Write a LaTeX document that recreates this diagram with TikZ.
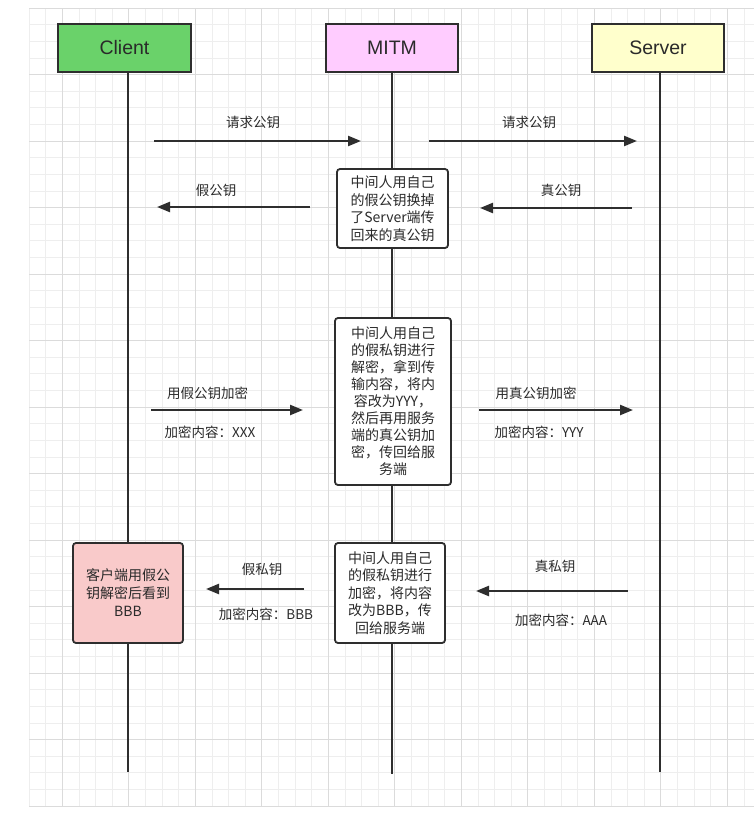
\documentclass[tikz,border=0pt]{standalone}
\usepackage{fontspec}
\setmainfont{Noto Sans CJK SC}
\newfontfamily\fejfont{Liberation Sans}
\usetikzlibrary{arrows.meta,positioning}
\definecolor{vonal}{HTML}{2E2E2E}
\definecolor{szoveg}{HTML}{2A2A2A}
\definecolor{zold}{RGB}{106,210,106}
\definecolor{lila}{HTML}{FFCCFF}
\definecolor{sarga}{HTML}{FFFFCC}
\definecolor{rozsa}{HTML}{F9CACA}
\tikzset{
  szereplo/.style={draw=vonal,line width=1.8pt,minimum width=132pt,minimum height=48pt,
                   font=\fejfont\fontsize{19.5}{22}\selectfont,text=szoveg},
  jegyzet/.style={draw=vonal,line width=1.8pt,rounded corners=3pt,fill=white,align=center,
                  inner sep=2pt,font=\fontsize{14}{17.5}\selectfont,text=szoveg},
  eletvonal/.style={line width=2.6pt,draw=vonal},
  uzenet/.style={line width=2.3pt,draw=vonal,-{Triangle[length=13pt,width=10pt]}},
  felirat/.style={font=\fontsize{13.5}{16}\selectfont,text=szoveg,inner sep=1pt},
  racs/.style={draw=gray!13,line width=0.7pt},
  racsfo/.style={draw=gray!28,line width=0.7pt},
}
\begin{document}
\begin{tikzpicture}[x=1pt,y=-1pt]
  \useasboundingbox[fill=white] (0,0) rectangle (754,819);
  % racs a hatterben
  \foreach \i in {0,...,43} \draw[racs] ({29+16.625*\i},8) -- ({29+16.625*\i},806);
  \foreach \j in {0,...,48} \draw[racs] (29,{8+16.625*\j}) -- (754,{8+16.625*\j});
  \foreach \i in {2,6,...,42} \draw[racsfo] ({29+16.625*\i},8) -- ({29+16.625*\i},806);
  \foreach \j in {0,4,...,48} \draw[racsfo] (29,{8+16.625*\j}) -- (754,{8+16.625*\j});

  % szereplok
  \node[szereplo,fill=zold,minimum width=133pt] (client) at (124.5,48) {Client};
  \node[szereplo,fill=lila] (mitm) at (392,48) {MITM};
  \node[szereplo,fill=sarga] (server) at (658,48) {Server};

  % eletvonalak
  \coordinate (cveg) at (128,772);
  \coordinate (mveg) at (392,774);
  \coordinate (sveg) at (660,772);
  \draw[eletvonal] (cveg |- client.south) -- (cveg);
  \draw[eletvonal] (mitm.south) -- (mveg);
  \draw[eletvonal] (sveg |- server.south) -- (sveg);

  % jegyzetek
  \node[jegyzet,minimum width=111pt,minimum height=79pt] (j1) at (392.5,208.5)
    {中间人用自己\\的假公钥换掉\\了Server端传\\回来的真公钥};
  \node[jegyzet,minimum width=116pt,minimum height=167pt,font=\fontsize{14}{17}\selectfont] (j2) at (393,401.5)
    {中间人用自己\\的假私钥进行\\解密，拿到传\\输内容，将内\\容改为YYY，\\然后再用服务\\端的真公钥加\\密，传回给服\\务端};
  \node[jegyzet,minimum width=110pt,minimum height=100pt] (j3) at (390,593)
    {中间人用自己\\的假私钥进行\\加密，将内容\\改为BBB，传\\回给服务端};
  \node[jegyzet,fill=rozsa,minimum width=110pt,minimum height=100pt,font=\fontsize{14}{18}\selectfont] (kliens) at (128,593)
    {客户端用假公\\钥解密后看到\\BBB};

  % uzenetek
  \coordinate (u1a) at (154,141);  \coordinate (u1b) at (361,141);
  \coordinate (u2a) at (429,141);  \coordinate (u2b) at (637,141);
  \coordinate (u3a) at (310,207);  \coordinate (u3b) at (157,207);
  \coordinate (u4a) at (632,208);  \coordinate (u4b) at (480,208);
  \coordinate (u5a) at (151,410);  \coordinate (u5b) at (303,410);
  \coordinate (u6a) at (479,410);  \coordinate (u6b) at (633,410);
  \coordinate (u7a) at (304,589);  \coordinate (u7b) at (206,589);
  \coordinate (u8a) at (628,591);  \coordinate (u8b) at (476,591);
  \draw[uzenet] (u1a) -- (u1b);
  \draw[uzenet] (u2a) -- (u2b);
  \draw[uzenet] (u3a) -- (u3b);
  \draw[uzenet] (u4a) -- (u4b);
  \draw[uzenet] (u5a) -- (u5b);
  \draw[uzenet] (u6a) -- (u6b);
  \draw[uzenet] (u7a) -- (u7b);
  \draw[uzenet] (u8a) -- (u8b);

  % feliratok
  \node[felirat] (f1) at (253,122) {请求公钥};
  \node[felirat] (f2) at (529,122) {请求公钥};
  \node[felirat] (f3) at (216,190) {假公钥};
  \node[felirat] (f4) at (561,190) {真公钥};
  \node[felirat] (f5) at (207.5,393) {用假公钥加密};
  \node[felirat] (f6) at (210,432) {加密内容：XXX};
  \node[felirat] (f7) at (536,393) {用真公钥加密};
  \node[felirat] (f8) at (539,432) {加密内容：YYY};
  \node[felirat] (f9) at (262,569) {假私钥};
  \node[felirat] (f10) at (266,614) {加密内容：BBB};
  \node[felirat] (f11) at (555,566) {真私钥};
  \node[felirat] (f12) at (561,620) {加密内容：AAA};
\end{tikzpicture}
\end{document}
